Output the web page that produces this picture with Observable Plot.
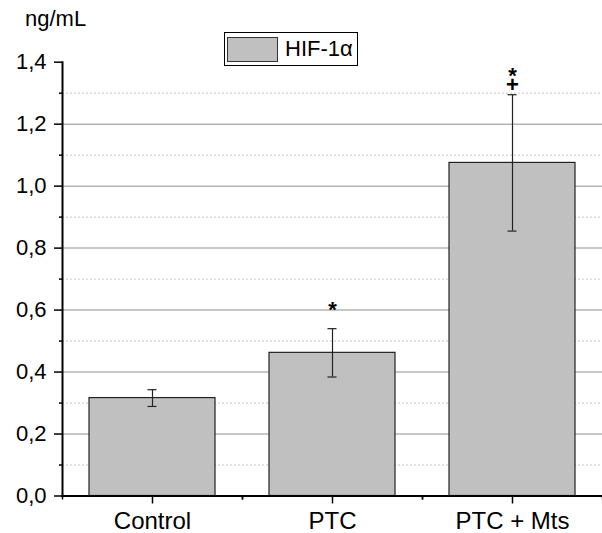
<!DOCTYPE html>
<html><head><meta charset="utf-8">
<script src="https://cdn.jsdelivr.net/npm/d3@7"></script>
<script src="https://cdn.jsdelivr.net/npm/@observablehq/plot@0.6"></script>
<style>
body{margin:0;background:#fff;font-family:"Liberation Sans",Arial,sans-serif}
#wrap{position:relative;width:602px;height:533px}
#unit{position:absolute;left:25px;top:8px;font-size:22px;line-height:22px;color:#000}
#legend{position:absolute;left:224px;top:32px;width:134px;height:34px;border:1px solid #000;box-sizing:border-box;background:#fff}
#legend .sw{position:absolute;left:2px;top:4px;width:51px;height:25px;background:#c0c0c0;border:1px solid #333;box-sizing:border-box}
#legend .lt{position:absolute;left:60px;top:5px;font-size:22px;line-height:22px;color:#000;white-space:nowrap}
</style></head>
<body><div id="wrap"><div id="unit">ng/mL</div><div id="legend"><div class="sw"></div><div class="lt">HIF-1α</div></div></div>
<script>
const categories = ["Control", "PTC", "PTC + Mts"];
const values = [0.316, 0.462, 1.075];
const errors = [0.027, 0.078, 0.22];
const annotations = ["", "*\n", "*\n+"];
const majorTicks = [0, 0.2, 0.4, 0.6, 0.8, 1.0, 1.2, 1.4];
const minorTicks = [0.1, 0.3, 0.5, 0.7, 0.9, 1.1, 1.3];

const data = categories.map((c, i) => ({cat: c, value: values[i], err: errors[i], note: annotations[i]}));
const fmt = d => d3.format(".1f")(d).replace(".", ",");
const W = 602, ML = 62, MR = 0;
const half = (W - ML - MR) / categories.length / 2;

const chart = Plot.plot({
  width: W, height: 533,
  marginLeft: ML, marginRight: MR, marginTop: 61.7, marginBottom: 37.5,
  style: {fontFamily: "Liberation Sans, Arial, sans-serif", background: "#fff", color: "#000", overflow: "visible"},
  x: {domain: categories, paddingInner: 0.3, paddingOuter: 0.15, label: null},
  y: {domain: [0, 1.4], label: null},
  marks: [
    Plot.gridY(minorTicks, {stroke: "#c4c4c4", strokeOpacity: 1, strokeWidth: 1, strokeDasharray: "2,2"}),
    Plot.gridY(majorTicks.slice(1, -1), {stroke: "#b4b4b4", strokeOpacity: 1, strokeWidth: 1.5}),
    Plot.barY(data, {x: "cat", y: "value", fill: "#c0c0c0", stroke: "#222", strokeWidth: 1.2}),
    Plot.ruleX(data, {x: "cat", y1: d => d.value - d.err, y2: d => d.value + d.err, stroke: "#222", strokeWidth: 1.2}),
    Plot.tickY(data, {x: "cat", y: d => d.value - d.err, stroke: "#222", strokeWidth: 1.2, insetLeft: 58.5, insetRight: 58.5}),
    Plot.tickY(data, {x: "cat", y: d => d.value + d.err, stroke: "#222", strokeWidth: 1.2, insetLeft: 58.5, insetRight: 58.5}),
    Plot.text(data.filter(d => d.note), {x: "cat", y: d => d.value + d.err, text: "note", lineAnchor: "bottom", lineHeight: 0.4, dy: -3, fontSize: 22, fontWeight: "bold", fill: "#000"}),
    Plot.axisY(majorTicks, {tickSize: 8, tickPadding: 8, tickFormat: fmt, fontSize: 22, strokeWidth: 1.5}),
    Plot.axisY(minorTicks, {tickSize: 3, text: null, strokeWidth: 1.5}),
    Plot.axisX(categories, {tickSize: 8, tickPadding: 8, fontSize: 24, strokeWidth: 1.5, label: null}),
    Plot.axisX(categories, {tickSize: 4, text: null, dx: -half, strokeWidth: 1.5, label: null}),
    Plot.axisX(categories, {tickSize: 4, text: null, dx: half, strokeWidth: 1.5, label: null}),
    Plot.frame({anchor: "left", stroke: "#000", strokeWidth: 2}),
    Plot.frame({anchor: "bottom", stroke: "#000", strokeWidth: 2})
  ]
});
document.getElementById("wrap").prepend(chart);
</script></body></html>
